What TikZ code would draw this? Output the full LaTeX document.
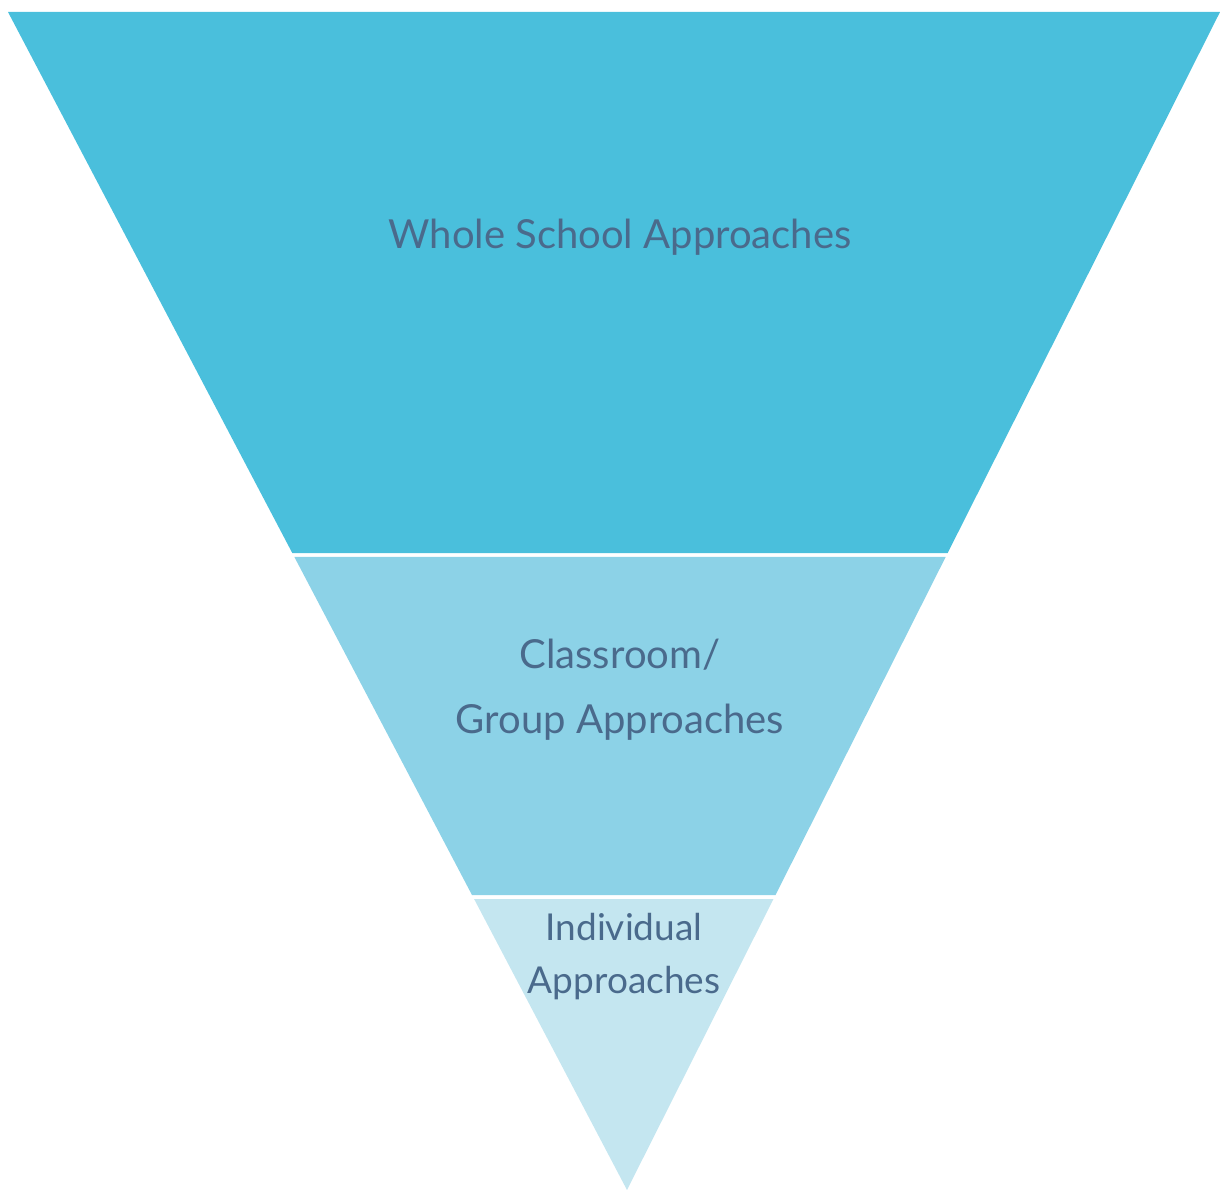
\documentclass[tikz,border=0pt]{standalone}
\usepackage{fontspec}
\setmainfont{Lato}
\usetikzlibrary{calc}

\definecolor{bandtop}{HTML}{4ABFDC}
\definecolor{bandmid}{HTML}{8CD2E7}
\definecolor{bandlow}{HTML}{C4E6F0}
\definecolor{labeltext}{HTML}{4A6A8C}

\tikzset{
  band/.style={draw=none},
  bandlabel/.style={text=labeltext, align=center, anchor=base, inner sep=0pt}
}

\begin{document}
\begin{tikzpicture}[x=1pt,y=-1pt]
    \useasboundingbox (0,0) rectangle (1220,1190);

    % corners of the funnel
    \coordinate (tl) at (8,12);
    \coordinate (tr) at (1220,12);
    \coordinate (apex) at (627,1190);

    % band edges
    \coordinate (l1) at ($(tl)!0.4593!(apex)$);
    \coordinate (r1) at ($(tr)!0.4593!(apex)$);
    \coordinate (l2) at ($(tl)!0.4626!(apex)$);
    \coordinate (r2) at ($(tr)!0.4626!(apex)$);
    \coordinate (l3) at ($(tl)!0.7496!(apex)$);
    \coordinate (r3) at ($(tr)!0.7496!(apex)$);
    \coordinate (l4) at ($(tl)!0.7530!(apex)$);
    \coordinate (r4) at ($(tr)!0.7530!(apex)$);

    \fill[band,bandtop] (tl) -- (tr) -- (r1) -- (l1) -- cycle;
    \fill[band,bandmid] (l2) -- (r2) -- (r3) -- (l3) -- cycle;
    \fill[band,bandlow] (l4) -- (r4) -- (apex) -- cycle;

    % labels (base = last line)
    \node[bandlabel, font=\fontsize{40}{65}\selectfont] (whole) at (620,249) {Whole School Approaches};
    \node[bandlabel, font=\fontsize{40}{65}\selectfont] (group) at (620,733) {Classroom/\\Group Approaches};
    \node[bandlabel, font=\fontsize{37}{53}\selectfont] (indiv) at (624,993) {Individual\\Approaches};
\end{tikzpicture}
\end{document}
